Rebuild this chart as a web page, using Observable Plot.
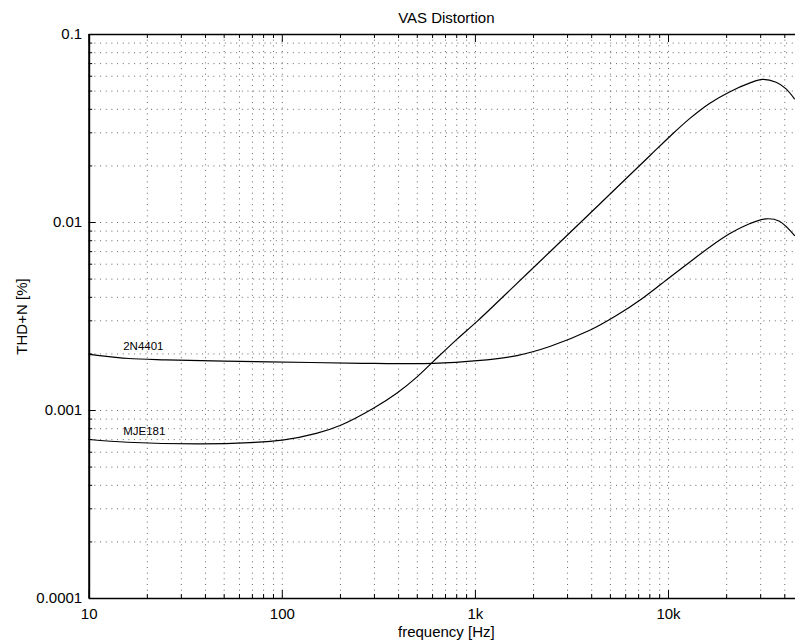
<!DOCTYPE html>
<html><head><meta charset="utf-8">
<script src="https://cdn.jsdelivr.net/npm/d3@7"></script>
<script src="https://cdn.jsdelivr.net/npm/@observablehq/plot@0.6"></script>
<style>body{margin:0;background:#fff} svg{display:block}</style>
</head><body><div id="chart"></div>
<script>
const title = "VAS Distortion";
const xLabel = "frequency [Hz]";
const yLabel = "THD+N [%]";
const xDomain = [10, 50000];
const yDomain = [0.0001, 0.1];
const xMajor = [10, 100, 1000, 10000];
const xMajorLabels = ["10", "100", "1k", "10k"];
const yMajor = [0.0001, 0.001, 0.01, 0.1];
const yMajorLabels = ["0.0001", "0.001", "0.01", "0.1"];

const freq2N4401 = [10, 13, 16, 25, 50, 140, 300, 604, 1020, 1641, 2427, 3908, 5370, 7376, 10130, 12860, 16300, 20690, 26250, 32040, 37510, 44860];
const thd2N4401  = [0.00199, 0.00193, 0.00189, 0.00186, 0.00183, 0.0018, 0.00178, 0.00178, 0.00184, 0.00196, 0.00219, 0.00267, 0.0032, 0.00397, 0.0051, 0.00615, 0.00739, 0.00871, 0.00985, 0.01046, 0.01016, 0.00853];

const freqMJE181 = [10, 15.8, 37.6, 68, 100, 150, 199, 295, 393, 499, 604, 801, 1020, 1339, 2427, 4405, 8000, 10130, 12860, 16300, 20690, 26250, 30730, 36070, 40620, 44860];
const thdMJE181  = [0.000701, 0.000678, 0.000665, 0.000675, 0.000695, 0.000755, 0.000832, 0.001025, 0.00124, 0.00151, 0.00182, 0.00239, 0.00298, 0.00388, 0.00697, 0.01255, 0.02265, 0.0286, 0.0357, 0.043, 0.0495, 0.0551, 0.0577, 0.0557, 0.0514, 0.0455];

const seriesNames = ["2N4401", "MJE181"];
const labelFreq = [15, 15];
const labelThd = [0.00209, 0.000745];

// layout
const W = 795, H = 643, mL = 88.7, mR = -8, mT = 34, mB = 45;
const fw = W - mL - mR, fh = H - mT - mB;
const font = "'Liberation Sans', Arial, Helvetica, sans-serif";

const xMinor = [], yMinor = [];
for (const d of xMajor) for (let k = 2; k <= 9; k++) if (k * d < xDomain[1]) xMinor.push(k * d);
for (const d of yMajor.slice(0, 3)) for (let k = 2; k <= 9; k++) yMinor.push(k * d);
const xGrid = xMajor.slice(1).concat(xMinor);
const yGrid = yMajor.slice(1, 3).concat(yMinor);

const rows2N = freq2N4401.map((f, i) => ({f, v: thd2N4401[i]}));
const rowsMJE = freqMJE181.map((f, i) => ({f, v: thdMJE181[i]}));
const labels = seriesNames.map((n, i) => ({n, f: labelFreq[i], v: labelThd[i]}));

const grid = {stroke: "#000", strokeOpacity: 0.6, strokeWidth: 1, strokeDasharray: "1,4.67"};

const chart = Plot.plot({
  width: W, height: H,
  marginLeft: mL, marginRight: mR, marginTop: mT, marginBottom: mB,
  style: {fontFamily: font, background: "#fff", color: "#000"},
  x: {type: "log", domain: xDomain, axis: null},
  y: {type: "log", domain: yDomain, axis: null},
  marks: [
    Plot.ruleX(xGrid, {x: d => d, ...grid}),
    Plot.ruleY(yGrid, {y: d => d, ...grid}),
    Plot.tickX(xMajor, {x: d => d, insetTop: fh - 8, stroke: "#000"}),
    Plot.tickX(xMinor, {x: d => d, insetTop: fh - 4, stroke: "#000"}),
    Plot.tickX(xMajor, {x: d => d, insetBottom: fh - 8, stroke: "#000"}),
    Plot.tickX(xMinor, {x: d => d, insetBottom: fh - 4, stroke: "#000"}),
    Plot.tickY(yMajor, {y: d => d, insetRight: fw - 7, stroke: "#000"}),
    Plot.tickY(yMinor, {y: d => d, insetRight: fw - 3.5, stroke: "#000"}),
    Plot.ruleX([xDomain[0]], {strokeWidth: 2, stroke: "#000"}),
    Plot.ruleY([yDomain[0]], {strokeWidth: 1.5, stroke: "#000"}),
    Plot.ruleY([yDomain[1]], {strokeWidth: 1.3, stroke: "#000"}),
    Plot.line(rows2N, {x: "f", y: "v", curve: "catmull-rom", stroke: "#000", strokeWidth: 1.2}),
    Plot.line(rowsMJE, {x: "f", y: "v", curve: "catmull-rom", stroke: "#000", strokeWidth: 1.2}),
    Plot.text(labels, {x: "f", y: "v", text: "n", textAnchor: "start", lineAnchor: "bottom", fontSize: 11.5, fill: "#000"}),
    Plot.text(xMajor, {x: d => d, text: (d, i) => xMajorLabels[i], frameAnchor: "bottom", dy: 20, lineAnchor: "bottom", fontSize: 15, fill: "#000"}),
    Plot.text(yMajor, {y: d => d, text: (d, i) => yMajorLabels[i], frameAnchor: "left", dx: -7, textAnchor: "end", lineAnchor: "middle", fontSize: 15, fill: "#000"}),
    Plot.text([xLabel], {frameAnchor: "bottom", dy: 38, lineAnchor: "bottom", fontSize: 15, fill: "#000"}),
    Plot.text([title], {frameAnchor: "top", dy: -11.3, lineAnchor: "bottom", fontSize: 15, fill: "#000"}),
    Plot.text([yLabel], {frameAnchor: "left", dx: -61.7, rotate: -90, textAnchor: "middle", lineAnchor: "bottom", fontSize: 15, fill: "#000"})
  ]
});
document.getElementById("chart").appendChild(chart);
</script>
</body></html>
